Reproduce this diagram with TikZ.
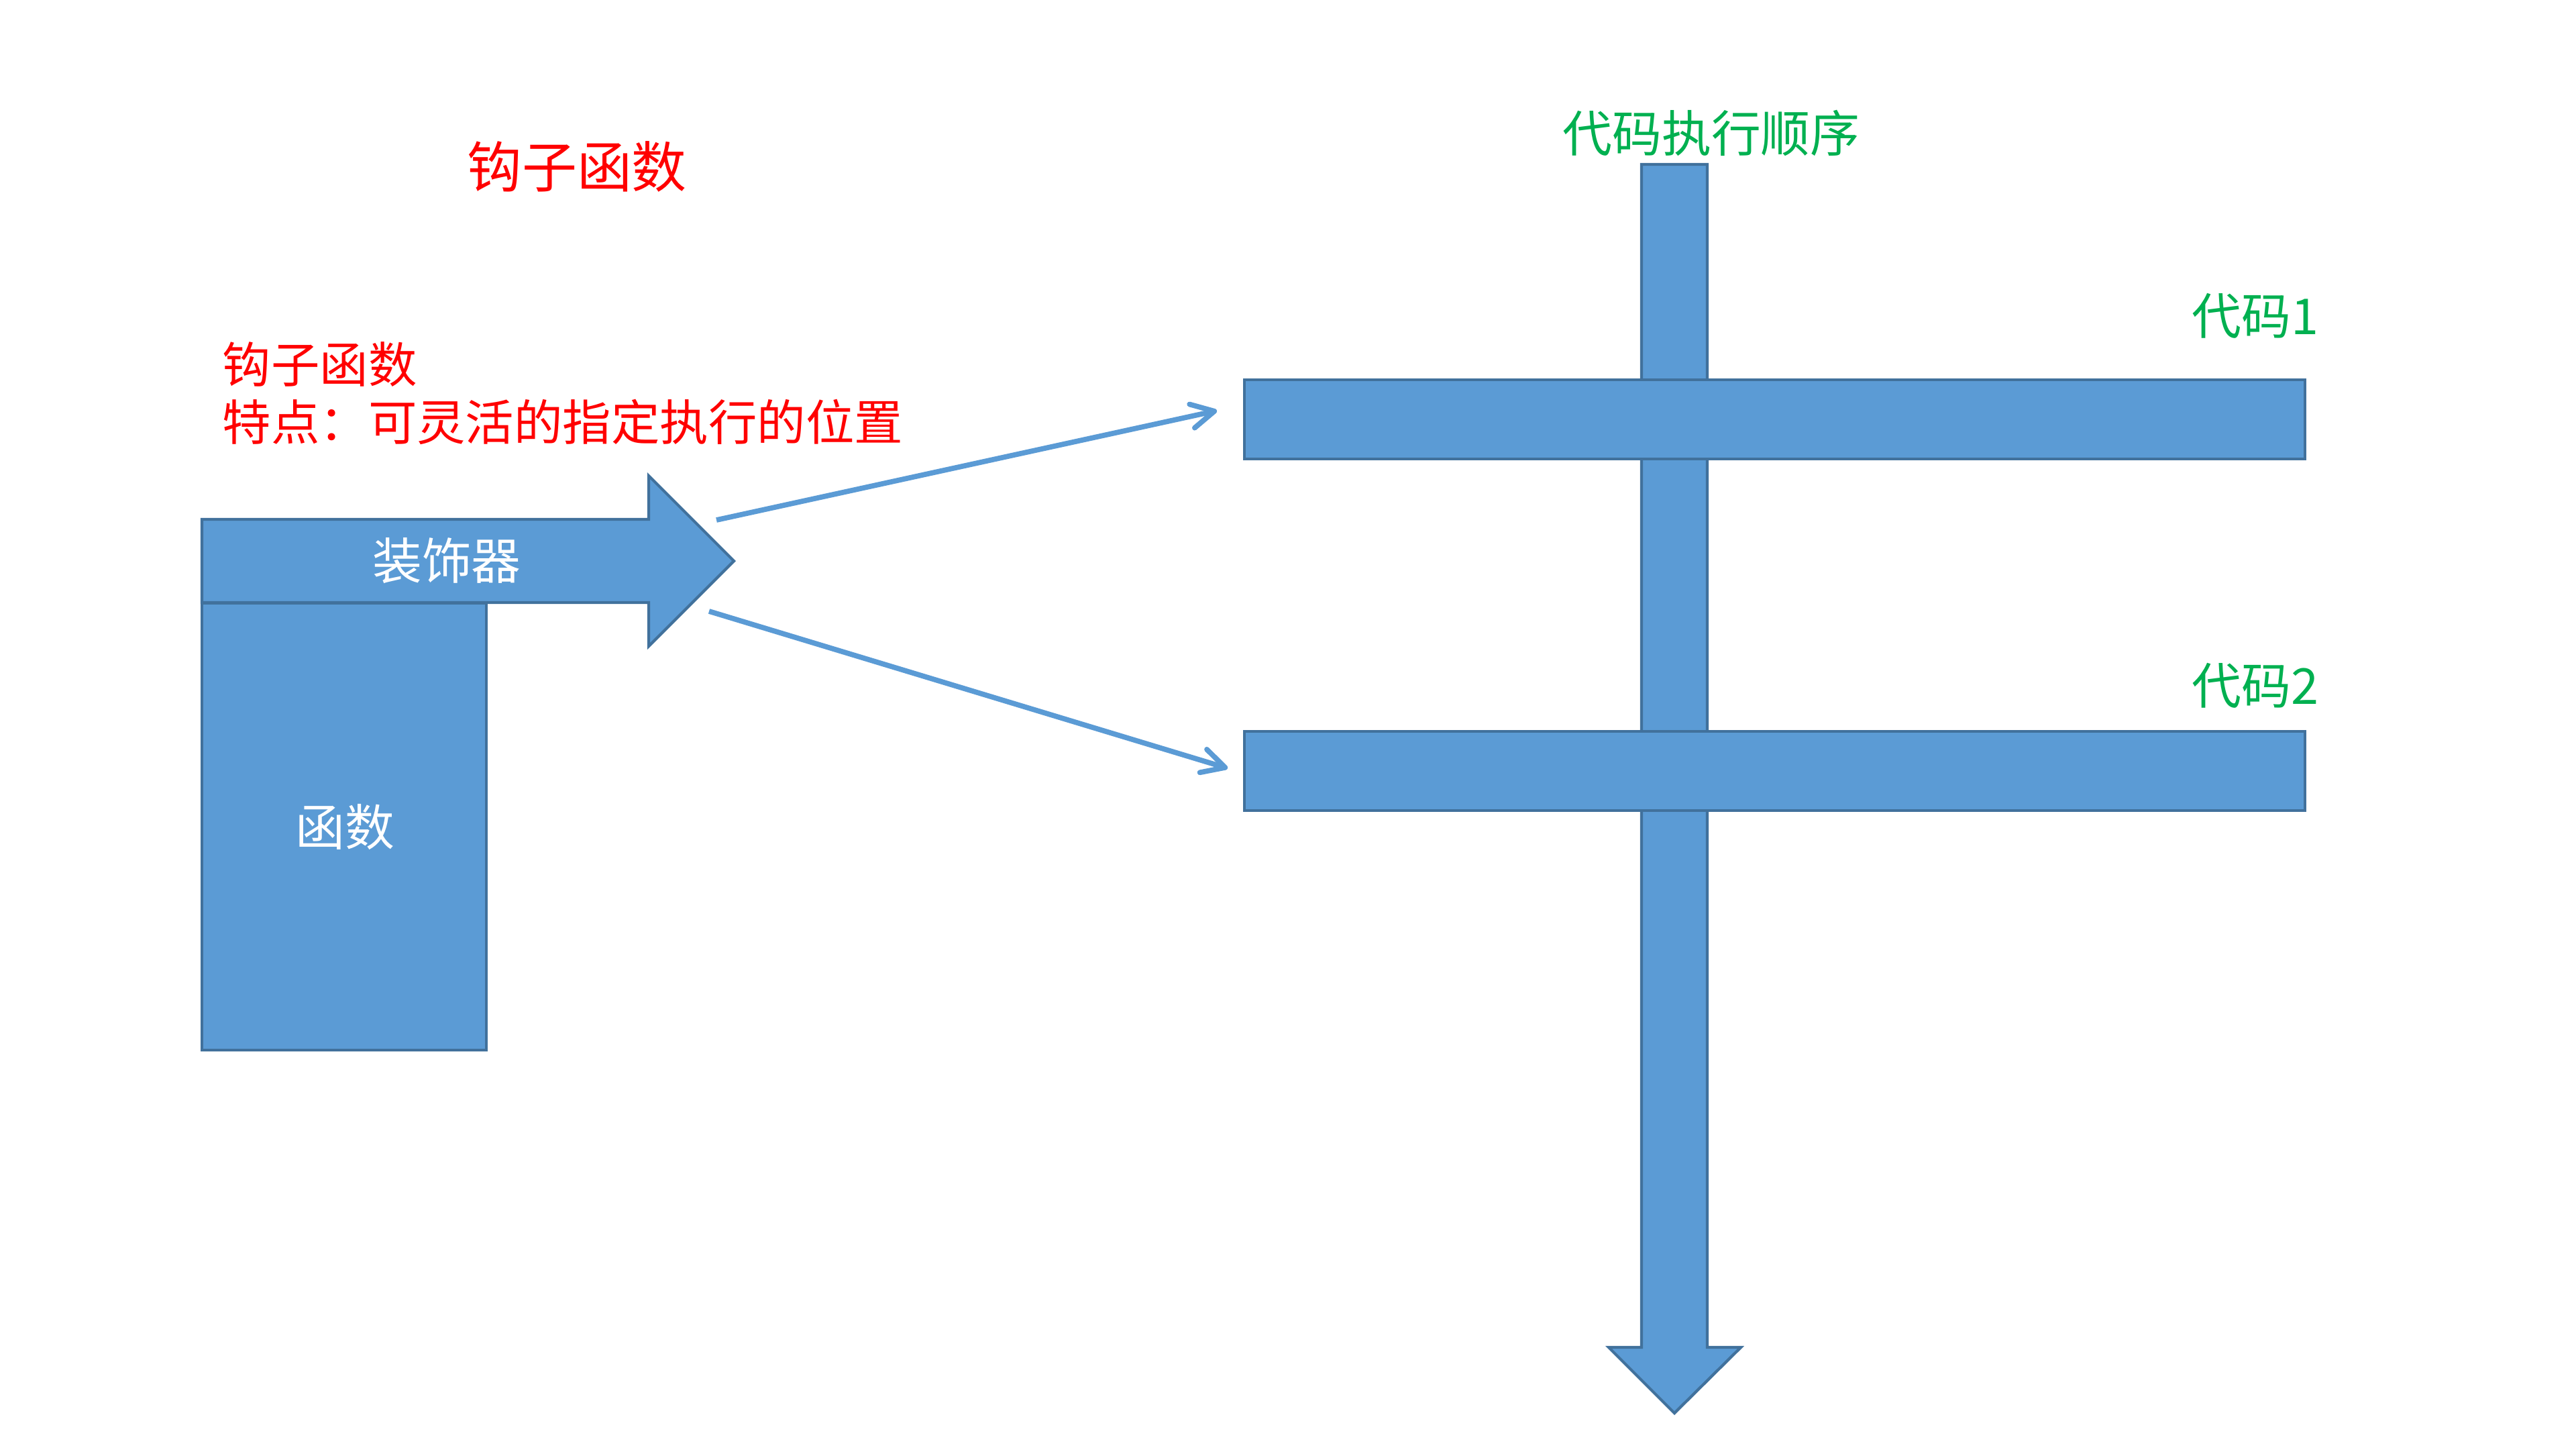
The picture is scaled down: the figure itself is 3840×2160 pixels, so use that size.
\documentclass[tikz,border=0pt]{standalone}
\usepackage{fontspec}
\setmainfont{Noto Sans CJK SC}
\usetikzlibrary{arrows.meta}
\definecolor{shapefill}{HTML}{5B9BD5}
\definecolor{shapeline}{HTML}{41719C}
\definecolor{redtext}{HTML}{FF0000}
\definecolor{greentext}{HTML}{00B050}
\tikzset{
  blockshape/.style={fill=shapefill, draw=shapeline, line width=1.2pt, line join=miter},
  linkarrow/.style={draw=shapefill, line width=2.2pt, -{Straight Barb[round, length=0.34cm, width=0.36cm]}},
  redlabel/.style={text=redtext, inner sep=0pt},
  greenlabel/.style={text=greentext, inner sep=0pt, font=\fontsize{21}{25}\selectfont},
  whitelabel/.style={text=white, inner sep=0pt, font=\fontsize{21}{25}\selectfont}
}
\begin{document}
\begin{tikzpicture}[x=0.01cm, y=-0.01cm]
\useasboundingbox (0,0) rectangle (3840,2160);

% function block
\path[blockshape] (301,899) rectangle (725,1565);
% decorator arrow
\path[blockshape] (301,774) -- (967,774) -- (967,709) -- (1094,836) -- (967,963) -- (967,898) -- (301,898) -- cycle;

% execution order arrow
\path[blockshape] (2447,245) -- (2545,245) -- (2545,2008) -- (2595,2008) -- (2496,2106) -- (2398,2008) -- (2447,2008) -- cycle;
% code bars
\path[blockshape] (1855,566) rectangle (3436,684);
\path[blockshape] (1855,1090) rectangle (3436,1208);

% texts
\node[redlabel, font=\fontsize{23.3}{27}\selectfont] (title) at (860,248) {钩子函数};
\node[redlabel, anchor=west, align=left, font=\fontsize{20.6}{24.5}\selectfont] (desc) at (331,586) {钩子函数\\特点：可灵活的指定执行的位置};
\node[whitelabel] (deco) at (666,836) {装饰器};
\node[whitelabel] (func) at (514,1232) {函数};
\node[greenlabel] (order) at (2551,198) {代码执行顺序};
\node[greenlabel, anchor=east] (code1) at (3457,471) {代码1};
\node[greenlabel, anchor=east] (code2) at (3457,1022) {代码2};

% connector ends
\coordinate (s1) at (1068,775);
\coordinate (e1) at (1814,612);
\coordinate (s2) at (1057,911);
\coordinate (e2) at (1830,1145);
\draw[linkarrow] (s1) -- (e1);
\draw[linkarrow] (s2) -- (e2);
\end{tikzpicture}
\end{document}
